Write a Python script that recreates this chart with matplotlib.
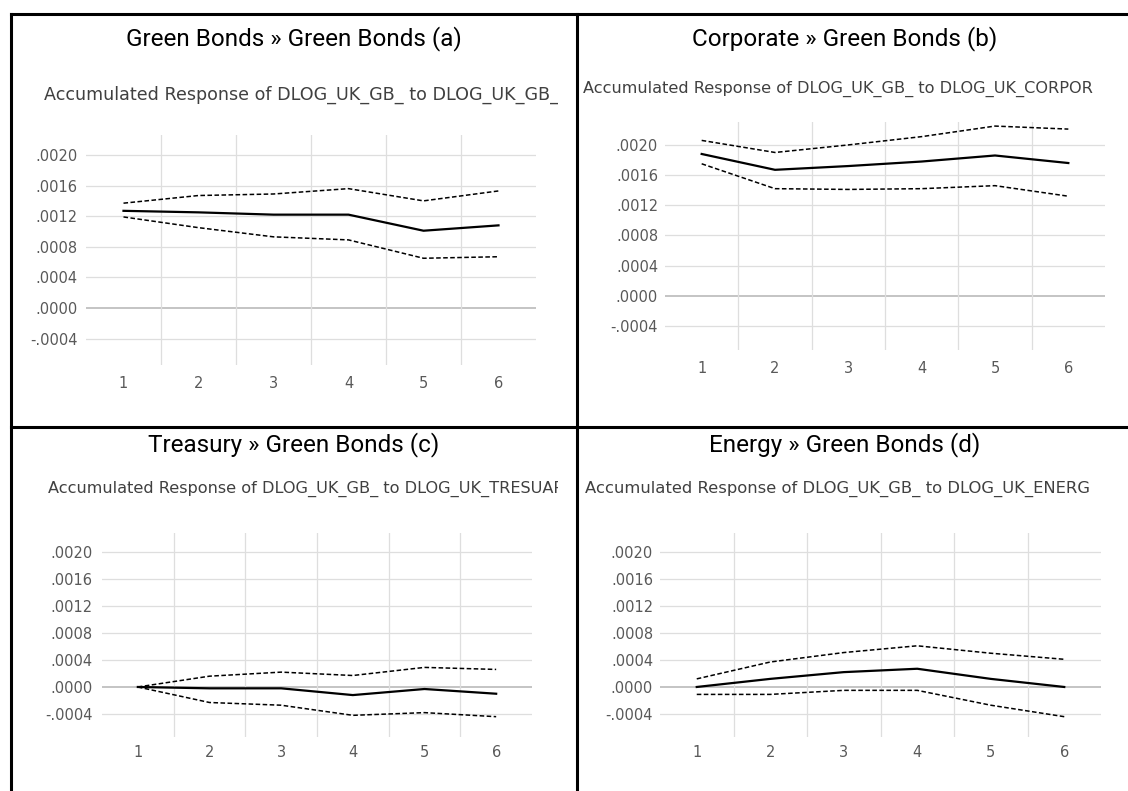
import matplotlib
matplotlib.use("Agg")
import matplotlib.pyplot as plt
from matplotlib.lines import Line2D
from matplotlib.transforms import Bbox, TransformedBbox

# Accumulated impulse responses (response, upper band, lower band) for periods 1..6
periods = [1, 2, 3, 4, 5, 6]
period_labels = ["1", "2", "3", "4", "5", "6"]
ytick_values = [-0.0004, 0.0, 0.0004, 0.0008, 0.0012, 0.0016, 0.0020]
ytick_labels = ["-.0004", ".0000", ".0004", ".0008", ".0012", ".0016", ".0020"]

gb_resp = [0.00127, 0.00125, 0.00122, 0.00122, 0.00101, 0.00108]
gb_upper = [0.00137, 0.00147, 0.00149, 0.00156, 0.00140, 0.00153]
gb_lower = [0.00119, 0.00105, 0.00093, 0.00089, 0.00065, 0.00067]

corp_resp = [0.00188, 0.00167, 0.00172, 0.00178, 0.00186, 0.00176]
corp_upper = [0.00206, 0.00190, 0.00200, 0.00211, 0.00225, 0.00221]
corp_lower = [0.00175, 0.00142, 0.00141, 0.00142, 0.00146, 0.00132]

tres_resp = [0.0, -0.00002, -0.00002, -0.00012, -0.00003, -0.00010]
tres_upper = [0.0, 0.00016, 0.00022, 0.00017, 0.00029, 0.00026]
tres_lower = [0.0, -0.00023, -0.00027, -0.00042, -0.00038, -0.00044]

en_resp = [0.0, 0.00012, 0.00022, 0.00027, 0.00012, 0.0]
en_upper = [0.00012, 0.00037, 0.00051, 0.00061, 0.00050, 0.00041]
en_lower = [-0.00011, -0.00011, -0.00005, -0.00005, -0.00027, -0.00044]

titles = ["Green Bonds \u00bb Green Bonds (a)", "Corporate \u00bb Green Bonds (b)",
          "Treasury \u00bb Green Bonds (c)", "Energy \u00bb Green Bonds (d)"]
subtitles = ["Accumulated Response of DLOG_UK_GB_ to DLOG_UK_GB_",
             "Accumulated Response of DLOG_UK_GB_ to DLOG_UK_CORPOR",
             "Accumulated Response of DLOG_UK_GB_ to DLOG_UK_TRESUAR",
             "Accumulated Response of DLOG_UK_GB_ to DLOG_UK_ENERG"]

W, H = 1128, 791
fig = plt.figure(figsize=(W / 100, H / 100), dpi=100)
fig.patch.set_facecolor("white")


def fx(px):
    return px / W


def fy(py):
    return 1 - py / H


def box(left, right, top, bottom):
    return [fx(left), fy(bottom), (right - left) / W, (bottom - top) / H]


def draw_panel(pos, ylim, resp, upper, lower, xpad, ypad):
    ax = fig.add_axes(box(*pos))
    ax.set_xlim(0.5, 6.5)
    ax.set_ylim(*ylim)
    for v in ytick_values:
        if v == 0:
            ax.axhline(v, color="#bfbfbf", lw=1.3, zorder=1)
        else:
            ax.axhline(v, color="#dedede", lw=0.9, zorder=1)
    for xv in [1.5, 2.5, 3.5, 4.5, 5.5]:
        ax.axvline(xv, color="#dedede", lw=0.9, zorder=1)
    dash = (0, (3, 1.6))
    ax.plot(periods, upper, color="black", lw=1.1, ls=dash, zorder=3)
    ax.plot(periods, lower, color="black", lw=1.1, ls=dash, zorder=3)
    ax.plot(periods, resp, color="black", lw=1.6, zorder=4)
    ax.set_xticks(periods)
    ax.set_xticklabels(period_labels)
    ax.set_yticks(ytick_values)
    ax.set_yticklabels(ytick_labels)
    ax.tick_params(length=0, colors="#595959", labelsize=10.5)
    ax.tick_params(axis="x", pad=xpad)
    ax.tick_params(axis="y", pad=ypad)
    for s in ax.spines.values():
        s.set_visible(False)
    ax.patch.set_alpha(0)
    return ax


# plot areas in pixels: left, right, top, bottom
draw_panel((86, 536, 135, 365), (-0.000745, 0.002261), gb_resp, gb_upper, gb_lower, 8, 6)
draw_panel((665, 1105, 122, 350), (-0.000719, 0.002304), corp_resp, corp_upper, corp_lower, 8, 5)
draw_panel((102, 532, 533, 737), (-0.000741, 0.002281), tres_resp, tres_upper, tres_lower, 6, 7)
draw_panel((660, 1101, 533, 737), (-0.000741, 0.002281), en_resp, en_upper, en_lower, 6, 5)

# cell headings
title_font = ["Roboto", "DejaVu Sans"]
for (cx, by), t in zip([(294, 45), (845, 45), (294, 451), (845, 451)], titles):
    fig.text(fx(cx), fy(by), t, ha="center", va="baseline", fontsize=17.5,
             family=title_font, color="black")

# chart captions; the lower-left one runs into the cell rule and is cut there
captions = [(44, 100, 12.6), (583, 93, 11.6), (48, 493, 11.6), (585, 493, 11.8)]
for (x0, by, size), s in zip(captions, subtitles):
    txt = fig.text(fx(x0), fy(by), s, ha="left", va="baseline", fontsize=size,
                   family="DejaVu Sans", color="#404040")
    if x0 < 577:
        clip = TransformedBbox(Bbox.from_extents(fx(11), 0, fx(558), 1), fig.transFigure)
        txt.set_clip_box(clip)
        txt.set_clip_on(True)

# table rules
rules = [((11, 1128), (14, 14)), ((11, 1128), (427, 427)),
         ((11, 11), (14, 791)), ((577, 577), (14, 791))]
for xs, ys in rules:
    fig.add_artist(Line2D([fx(x) for x in xs], [fy(y) for y in ys], transform=fig.transFigure,
                          color="black", lw=2.2, solid_capstyle="projecting"))

fig.savefig("out.png", dpi=100, facecolor="white")
